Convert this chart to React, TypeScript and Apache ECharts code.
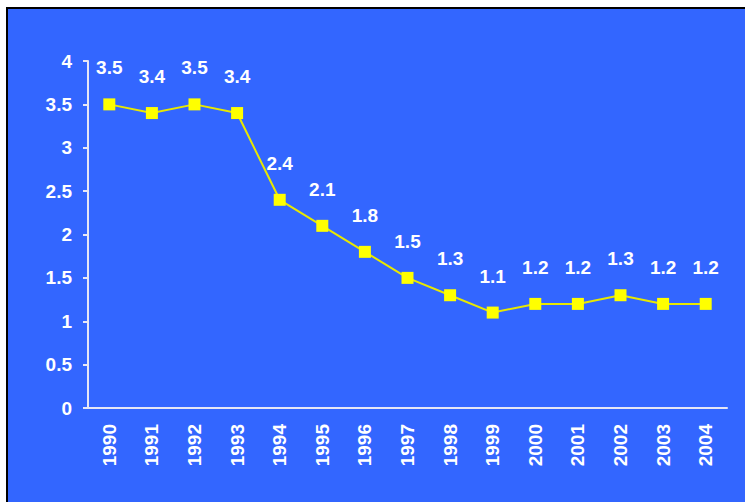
import React, { useEffect, useRef } from "react";
import * as echarts from "echarts";

const years = ["1990","1991","1992","1993","1994","1995","1996","1997","1998","1999","2000","2001","2002","2003","2004"];
const values = [3.5, 3.4, 3.5, 3.4, 2.4, 2.1, 1.8, 1.5, 1.3, 1.1, 1.2, 1.2, 1.3, 1.2, 1.2];

export default function App() {
  const ref = useRef<HTMLDivElement>(null);
  useEffect(() => {
    document.body.style.margin = "0";
    const chart = echarts.init(ref.current!, null, { renderer: "svg" });
    const font = "Liberation Sans, Arial, sans-serif";
    chart.setOption({
      animation: false,
      backgroundColor: "#ffffff",
      graphic: [
        {
          type: "rect",
          z: -10,
          shape: { x: 7, y: 8, width: 760, height: 520 },
          style: { fill: "#3366FF", stroke: "#000000", lineWidth: 2 },
        },
      ],
      grid: { left: 88, right: 18, top: 61, bottom: 94 },
      xAxis: {
        type: "category",
        data: years,
        boundaryGap: true,
        axisLine: { lineStyle: { color: "#E6E6F5", width: 2 } },
        axisTick: { length: 6, lineStyle: { color: "#E6E6F5", width: 2 }, alignWithLabel: false },
        axisLabel: {
          rotate: 90,
          margin: 16,
          color: "#ffffff",
          fontFamily: font,
          fontWeight: "bold",
          fontSize: 19,
        },
        splitLine: { show: false },
      },
      yAxis: {
        type: "value",
        min: 0,
        max: 4,
        interval: 0.5,
        axisLine: { show: true, lineStyle: { color: "#E6E6F5", width: 2 } },
        axisTick: { show: true, length: 5, lineStyle: { color: "#E6E6F5", width: 2 } },
        axisLabel: {
          margin: 16,
          color: "#ffffff",
          fontFamily: font,
          fontWeight: "bold",
          fontSize: 19,
        },
        splitLine: { show: false },
      },
      series: [
        {
          type: "line",
          data: values,
          symbol: "rect",
          symbolSize: 12,
          lineStyle: { color: "#E8E800", width: 2 },
          itemStyle: { color: "#FFFF00" },
          label: {
            show: true,
            position: "top",
            distance: 21,
            color: "#ffffff",
            fontFamily: font,
            fontWeight: "bold",
            fontSize: 19,
            formatter: (p: any) => p.value.toFixed(1),
          },
        },
      ],
    });
    return () => chart.dispose();
  }, []);
  return <div ref={ref} style={{ width: 745, height: 502, position: "absolute", left: 0, top: 0 }} />;
}
